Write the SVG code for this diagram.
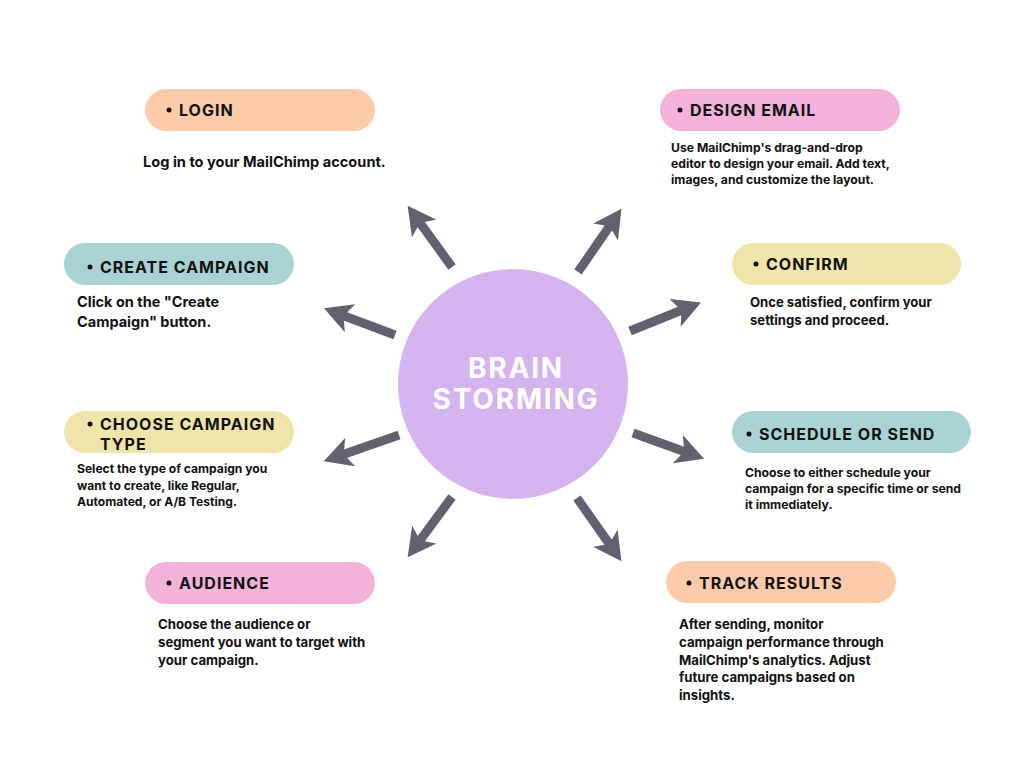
<svg xmlns="http://www.w3.org/2000/svg" width="1024" height="768" viewBox="0 0 1024 768">
<defs>
<style>
.pill-peach{fill:#fecbaa}
.pill-pink{fill:#f2b2da}
.pill-teal{fill:#a9d3d3}
.pill-yellow{fill:#efe5aa}
.title{font-family:Inter,"Liberation Sans",sans-serif;font-weight:700;font-size:16px;letter-spacing:1px;fill:#111}
.bullet{fill:#111}
.desc{font-family:Inter,"Liberation Sans",sans-serif;font-weight:700;font-size:13px;fill:#111}
.center{font-family:Inter,"Liberation Sans",sans-serif;font-weight:700;font-size:28px;letter-spacing:1.8px;fill:#fff;text-anchor:middle}
.arrow{stroke:#63616f;stroke-width:9;fill:none;marker-end:url(#head)}
</style>
<marker id="head" markerUnits="userSpaceOnUse" markerWidth="28" markerHeight="30" viewBox="0 0 28 30" refX="9" refY="15" orient="auto">
<path d="M0,0 L28,15 L0,30 L7,15 z" fill="#63616f"/>
</marker>
</defs>
<rect width="1024" height="768" fill="#fff"/>

<g id="connectors">
<line class="arrow" x1="452" y1="267" x2="418.8" y2="221.2"/>
<line class="arrow" x1="578" y1="272" x2="610.7" y2="224.5"/>
<line class="arrow" x1="395" y1="335" x2="341.7" y2="315"/>
<line class="arrow" x1="399" y1="435" x2="341.7" y2="455"/>
<line class="arrow" x1="452" y1="497" x2="418.9" y2="541.9"/>
<line class="arrow" x1="577" y1="498" x2="610.5" y2="545.6"/>
<line class="arrow" x1="630" y1="331" x2="683.4" y2="309.5"/>
<line class="arrow" x1="633" y1="433" x2="686.2" y2="452.2"/>
</g>

<g id="center">
<circle cx="513" cy="384" r="115" fill="#d5b3ef"/>
<text class="center" x="516" y="378">BRAIN</text>
<text class="center" x="516" y="409">STORMING</text>
</g>

<g id="login">
<rect class="pill-peach" x="145" y="89" width="230" height="42" rx="21"/>
<circle class="bullet" cx="169" cy="110" r="2.5"/>
<text class="title" x="179" y="116">LOGIN</text>
<text class="desc" x="143" y="167" style="font-size:14.6px">Log in to your MailChimp account.</text>
</g>

<g id="design-email">
<rect class="pill-pink" x="660" y="89" width="240" height="42" rx="21"/>
<circle class="bullet" cx="680" cy="110" r="2.5"/>
<text class="title" x="690" y="116">DESIGN EMAIL</text>
<text class="desc" x="671" y="152" style="font-size:12.2px">Use MailChimp's drag-and-drop</text>
<text class="desc" x="671" y="168" style="font-size:12.2px">editor to design your email. Add text,</text>
<text class="desc" x="671" y="184" style="font-size:12.2px">images, and customize the layout.</text>
</g>

<g id="create-campaign">
<rect class="pill-teal" x="64" y="243" width="230" height="42" rx="21"/>
<circle class="bullet" cx="90" cy="267" r="2.5"/>
<text class="title" x="100" y="273">CREATE CAMPAIGN</text>
<text class="desc" x="77" y="307" style="font-size:14.5px">Click on the "Create</text>
<text class="desc" x="77" y="327" style="font-size:14.5px">Campaign" button.</text>
</g>

<g id="confirm">
<rect class="pill-yellow" x="732" y="243" width="229" height="42" rx="21"/>
<circle class="bullet" cx="756" cy="264" r="2.5"/>
<text class="title" x="766" y="270">CONFIRM</text>
<text class="desc" x="750" y="307" style="font-size:13.1px">Once satisfied, confirm your</text>
<text class="desc" x="750" y="325" style="font-size:13.1px">settings and proceed.</text>
</g>

<g id="choose-campaign-type">
<rect class="pill-yellow" x="64" y="411" width="230" height="42" rx="21"/>
<circle class="bullet" cx="90" cy="424" r="2.5"/>
<text class="title" x="100" y="430">CHOOSE CAMPAIGN</text>
<text class="title" x="100" y="450">TYPE</text>
<text class="desc" x="77" y="473" style="font-size:12.1px">Select the type of campaign you</text>
<text class="desc" x="77" y="490" style="font-size:12.1px">want to create, like Regular,</text>
<text class="desc" x="77" y="506" style="font-size:12.1px">Automated, or A/B Testing.</text>
</g>

<g id="schedule-or-send">
<rect class="pill-teal" x="732" y="411" width="239" height="42" rx="21"/>
<circle class="bullet" cx="749" cy="434" r="2.5"/>
<text class="title" x="759" y="440">SCHEDULE OR SEND</text>
<text class="desc" x="745" y="477" style="font-size:12.2px">Choose to either schedule your</text>
<text class="desc" x="745" y="493" style="font-size:12.2px">campaign for a specific time or send</text>
<text class="desc" x="745" y="509" style="font-size:12.2px">it immediately.</text>
</g>

<g id="audience">
<rect class="pill-pink" x="145" y="562" width="230" height="42" rx="21"/>
<circle class="bullet" cx="169" cy="583" r="2.5"/>
<text class="title" x="179" y="589">AUDIENCE</text>
<text class="desc" x="158" y="629" style="font-size:13.2px">Choose the audience or</text>
<text class="desc" x="158" y="647" style="font-size:13.2px">segment you want to target with</text>
<text class="desc" x="158" y="665" style="font-size:13.2px">your campaign.</text>
</g>

<g id="track-results">
<rect class="pill-peach" x="666" y="561" width="230" height="42" rx="21"/>
<circle class="bullet" cx="689" cy="583" r="2.5"/>
<text class="title" x="699" y="589">TRACK RESULTS</text>
<text class="desc" x="679" y="629" style="font-size:13.2px">After sending, monitor</text>
<text class="desc" x="679" y="647" style="font-size:13.2px">campaign performance through</text>
<text class="desc" x="679" y="665" style="font-size:13.2px">MailChimp's analytics. Adjust</text>
<text class="desc" x="679" y="682" style="font-size:13.2px">future campaigns based on</text>
<text class="desc" x="679" y="700" style="font-size:13.2px">insights.</text>
</g>
</svg>
